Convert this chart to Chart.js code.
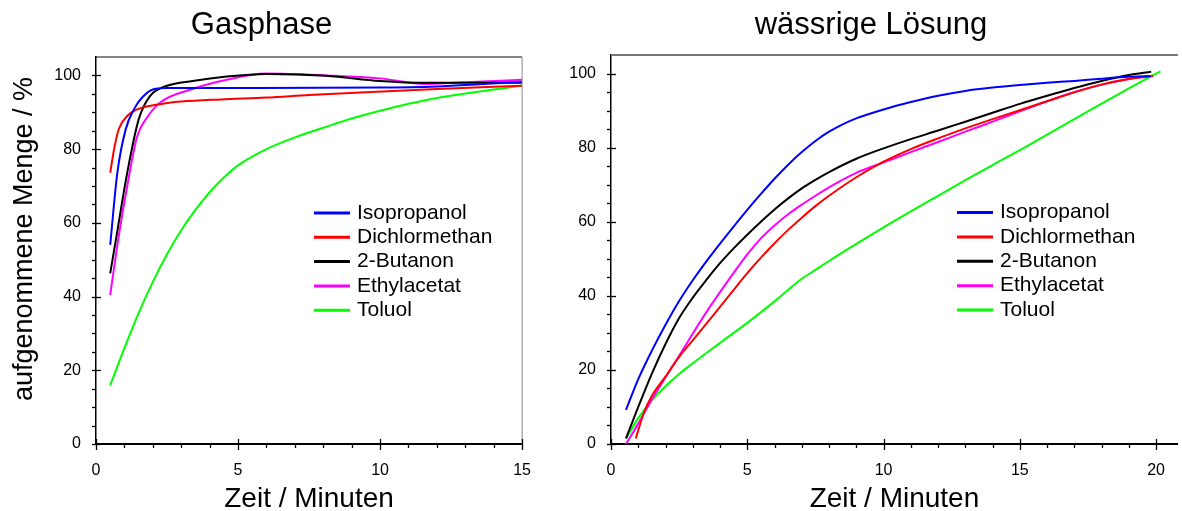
<!DOCTYPE html>
<html>
<head>
<meta charset="utf-8">
<script src="https://cdn.jsdelivr.net/npm/chart.js@4.4.1/dist/chart.umd.min.js"></script>
<style>
  html, body { margin: 0; padding: 0; background: #fff; }
  #wrap { position: relative; width: 1182px; height: 511px; overflow: hidden; }
  #gas { position: absolute; left: 0; top: 0; }
  #wasser { position: absolute; left: 560px; top: 0; }
</style>
</head>
<body>
<div id="wrap">
  <canvas id="gas" width="548" height="511"></canvas>
  <canvas id="wasser" width="622" height="511"></canvas>
</div>
<script>
// Stoffe und Farben
const stoffe = ['Isopropanol', 'Dichlormethan', '2-Butanon', 'Ethylacetat', 'Toluol'];
const farben = ['#0000ff', '#ff0000', '#000000', '#ff00ff', '#00ff00'];

// Achsen
const yTicks = [0, 20, 40, 60, 80, 100];
const gasXTicks = [0, 5, 10, 15];
const wasserXTicks = [0, 5, 10, 15, 20];

// Gasphase: [Zeit in Minuten, aufgenommene Menge in %]
const gasIsopropanol = [[0.5,54],[0.75,73.5],[1.05,85.5],[1.35,91],[1.6,93.8],[2,96.2],[2.5,96.6],[5,96.6],[10,96.7],[12,97],[13.5,97.6],[15,98.3]];
const gasDichlormethan = [[0.5,73.6],[0.65,80.5],[0.8,85.4],[1.1,89],[1.45,90.8],[2.25,92.2],[3,92.9],[4.4,93.5],[6,94],[7.5,94.7],[9.3,95.4],[12,96.3],[15,97.2]];
const gasButanon = [[0.5,46.3],[0.7,55.4],[1.1,73.6],[1.5,88],[1.9,94.4],[2.5,97.2],[3.4,98.5],[4.6,99.7],[6,100.4],[8.1,99.9],[10,98.5],[11.6,98],[15,98]];
const gasEthylacetat = [[0.5,40.4],[0.78,55.4],[1.1,70],[1.45,83.5],[1.8,88.6],[2.25,92.6],[3.4,96.3],[4.6,98.8],[6,100.5],[8.1,100],[10,99.2],[11.6,97.7],[12.8,98.1],[15,98.8]];
const gasToluol = [[0.5,15.9],[1,26],[1.5,35.5],[2,44],[2.5,51.5],[3,58],[3.5,63.5],[4,68.3],[4.5,72.3],[5,75.6],[6,80],[7,83.2],[8,85.8],[9,88.3],[10,90.4],[11,92.3],[12,93.9],[13,95.1],[14,96.2],[15,97.2]];

// wässrige Lösung
const wIsopropanol = [[0.55,9.2],[1,17.5],[1.5,25.2],[2,32.2],[2.5,38.6],[3,44.2],[3.5,49.3],[4,54.1],[4.5,58.7],[5,63.2],[5.5,67.5],[6,71.6],[6.5,75.4],[7,78.8],[7.5,81.8],[8,84.3],[8.5,86.3],[9,87.9],[10,90.3],[11,92.3],[12,94],[13,95.3],[14,96.2],[15,96.9],[16,97.5],[17,98],[18,98.6],[19,99.1],[19.8,99.3]];
const wDichlormethan = [[0.91,1.5],[1.2,8.3],[1.5,13],[2,18.2],[2.5,23.5],[3,28],[3.5,32.5],[4,37],[4.5,41.6],[5,46.1],[5.5,50.3],[6,54.2],[6.5,57.8],[7,61.1],[7.5,64.2],[8,67],[9,72],[10,76.2],[11,79.6],[12,82.5],[13,85.2],[14,87.7],[15,90.1],[16,92.5],[17,94.9],[18,97],[19,98.5],[19.89,99.3]];
const wButanon = [[0.55,1.5],[1,10],[1.5,19],[2,27],[2.5,34],[3,39.5],[3.5,44.3],[4,48.8],[4.5,52.8],[5,56.5],[5.5,60],[6,63.3],[6.5,66.3],[7,69],[7.5,71.3],[8,73.4],[9,77],[10,79.8],[11,82.3],[12,84.6],[13,87],[14,89.4],[15,91.8],[16,94],[17,96.1],[18,98],[19,99.6],[19.82,100.5]];
const wEthylacetat = [[0.55,0],[1,5.5],[1.5,12],[2,18],[2.5,23.8],[3,29.8],[3.5,35.6],[4,41],[4.5,46.2],[5,51.2],[5.5,55.5],[6,59],[6.5,62],[7,64.6],[7.5,67],[8,69.3],[9,73.2],[10,76],[11,78.8],[12,81.5],[13,84.3],[14,87],[15,89.8],[16,92.5],[17,95],[18,97],[19,98.5],[19.8,99.3]];
const wToluol = [[0.55,1.5],[1,7],[1.5,11.8],[2,15.6],[2.5,18.9],[3,21.8],[4,27.3],[5,32.7],[6,38.5],[7,44.6],[7.5,47],[8,49.4],[9,54],[10,58.5],[11,62.8],[12,67],[13,71.2],[14,75.3],[15,79.3],[16,83.5],[17,87.7],[18,91.9],[19,96],[20.16,100.6]];

const schrift = "'Liberation Sans', Arial, sans-serif";

function datensaetze(reihen) {
  return reihen.map((r, i) => ({
    label: stoffe[i],
    data: r.map(p => ({x: p[0], y: p[1]})),
    borderColor: farben[i],
    borderWidth: 2,
    pointRadius: 0,
    fill: false,
    cubicInterpolationMode: 'monotone'
  }));
}

// Rahmen, kleine Striche, Legende und y-Titel
const extras = {
  id: 'extras',
  afterDraw(chart, args, o) {
    const {ctx, chartArea: a, scales: {x, y}} = chart;
    ctx.save();
    ctx.strokeStyle = o.obenFarbe;
    ctx.lineWidth = o.obenBreite;
    ctx.beginPath(); ctx.moveTo(a.left, a.top); ctx.lineTo(a.right, a.top); ctx.stroke();
    if (o.rechts) {
      ctx.strokeStyle = '#888'; ctx.lineWidth = 1;
      ctx.beginPath(); ctx.moveTo(a.right, a.top); ctx.lineTo(a.right, a.bottom); ctx.stroke();
    }
    ctx.strokeStyle = '#000';
    ctx.lineWidth = 1.3;
    for (let v = 0; v <= x.max; v += 1) {
      const px = Math.round(x.getPixelForValue(v)) + 0.5;
      const gross = v % 5 === 0;
      ctx.beginPath(); ctx.moveTo(px, a.bottom - (gross ? 5 : 0)); ctx.lineTo(px, a.bottom + (gross ? 6 : 4)); ctx.stroke();
    }
    for (let v = 0; v <= 100; v += 5) {
      const py = Math.round(y.getPixelForValue(v)) + 0.5;
      const gross = v % 20 === 0;
      ctx.beginPath(); ctx.moveTo(a.left - 4, py); ctx.lineTo(a.left + (gross ? 5 : 0), py); ctx.stroke();
    }
    // Legende
    const L = o.legende;
    ctx.font = '21px ' + schrift;
    ctx.textBaseline = 'middle';
    ctx.textAlign = 'left';
    chart.data.datasets.forEach((ds, i) => {
      const yy = L.y + i * L.dy;
      ctx.strokeStyle = ds.borderColor;
      ctx.lineWidth = 3;
      ctx.beginPath(); ctx.moveTo(L.x, yy); ctx.lineTo(L.x + 36, yy); ctx.stroke();
      ctx.fillStyle = '#000';
      ctx.fillText(ds.label, L.x + 43, yy);
    });
    if (o.yTitel) {
      ctx.translate(25, 239);
      ctx.rotate(-Math.PI / 2);
      ctx.textAlign = 'center';
      ctx.font = '27px ' + schrift;
      ctx.fillText(o.yTitel, 0, 0);
    }
    ctx.restore();
  }
};

function diagramm(id, titel, reihen, xMax, xTicks, yBreite, titelUnten, rechtsPad, ex) {
  return new Chart(document.getElementById(id), {
    type: 'line',
    data: {datasets: datensaetze(reihen)},
    plugins: [extras],
    options: {
      responsive: false,
      animation: false,
      layout: {padding: {left: 0, right: rechtsPad, top: 0, bottom: 0}},
      plugins: {
        legend: {display: false},
        tooltip: {enabled: false},
        title: {
          display: true, text: titel, color: '#000',
          font: {family: schrift, size: 31, weight: 'normal', lineHeight: 1},
          padding: {top: 10, bottom: titelUnten}
        },
        extras: ex
      },
      scales: {
        x: {
          type: 'linear', min: 0, max: xMax,
          afterFit: s => { s.height = 67; },
          afterBuildTicks: s => { s.ticks = xTicks.map(v => ({value: v})); },
          grid: {display: false, drawTicks: false},
          border: {display: true, color: '#000', width: 2},
          ticks: {color: '#000', padding: 17, autoSkip: false, maxRotation: 0, font: {family: schrift, size: 16}},
          title: {display: true, text: 'Zeit / Minuten', color: '#000', padding: {top: 0, bottom: -2},
                  font: {family: schrift, size: 28, lineHeight: 1}}
        },
        y: {
          type: 'linear', min: 0, max: 105,
          afterFit: s => { s.width = yBreite; },
          afterBuildTicks: s => { s.ticks = yTicks.map(v => ({value: v})); },
          grid: {display: false, drawTicks: false},
          border: {display: true, color: '#000', width: 1.5},
          ticks: {color: '#000', padding: 15, autoSkip: false, font: {family: schrift, size: 16}}
        }
      }
    }
  });
}

diagramm('gas', 'Gasphase',
  [gasIsopropanol, gasDichlormethan, gasButanon, gasEthylacetat, gasToluol],
  15, gasXTicks, 96, 16, 25,
  {obenFarbe: '#111', obenBreite: 1.2, rechts: true, legende: {x: 314, y: 213, dy: 24.3}, yTitel: 'aufgenommene Menge / %'});

diagramm('wasser', 'wässrige Lösung',
  [wIsopropanol, wDichlormethan, wButanon, wEthylacetat, wToluol],
  20.8, wasserXTicks, 51, 14, 0,
  {obenFarbe: '#777', obenBreite: 2, rechts: false, legende: {x: 397, y: 212.5, dy: 24.4}, yTitel: null});
</script>
</body>
</html>
